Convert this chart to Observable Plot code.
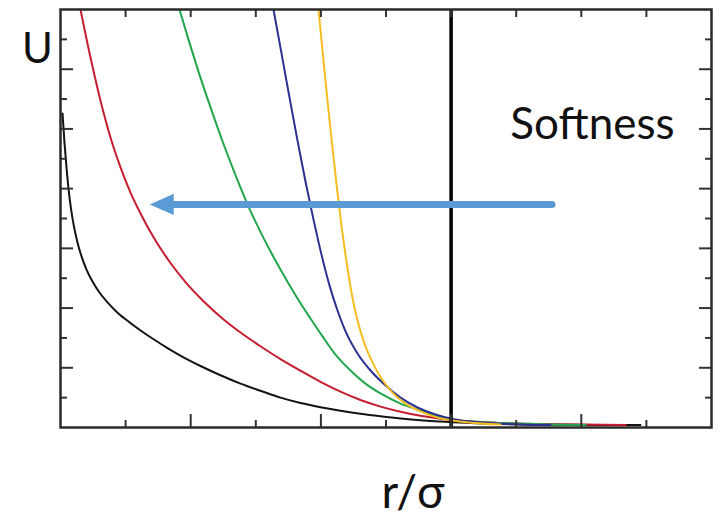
<!DOCTYPE html>
<html>
<head>
<meta charset="utf-8">
<script src="https://cdn.jsdelivr.net/npm/d3@7"></script>
<script src="https://cdn.jsdelivr.net/npm/@observablehq/plot@0.6"></script>
<style>
  html, body { margin: 0; padding: 0; background: #fff; }
  #chart svg { display: block; }
</style>
</head>
<body>
<div id="chart"></div>
<script>
// r/σ positions and U values, one pair of arrays per curve
const curve1R = [0.031, 0.061, 0.092, 0.123, 0.161, 0.207, 0.261, 0.323, 0.399, 0.492, 0.599, 0.722, 0.860, 1.014, 1.198, 1.413, 1.644, 1.889, 2.151, 2.458, 2.765, 3.072, 3.379, 3.687, 3.994, 4.301, 4.608, 4.916, 5.223, 5.530, 5.837, 6.298, 6.759, 7.680, 8.909];
const curve1U = [10.52, 9.54, 8.71, 8.00, 7.33, 6.73, 6.20, 5.73, 5.29, 4.89, 4.52, 4.19, 3.88, 3.60, 3.30, 2.98, 2.66, 2.35, 2.06, 1.75, 1.47, 1.23, 1.00, 0.82, 0.68, 0.56, 0.46, 0.375, 0.30, 0.24, 0.20, 0.147, 0.117, 0.09, 0.084];

const curve2R = [0.307, 0.461, 0.614, 0.768, 0.922, 1.075, 1.229, 1.459, 1.690, 1.920, 2.197, 2.488, 2.765, 3.072, 3.379, 3.687, 3.994, 4.301, 4.608, 4.916, 5.223, 5.530, 5.837, 6.144, 6.759, 7.680, 8.679];
const curve2U = [14.0, 12.39, 10.95, 9.71, 8.71, 7.87, 7.17, 6.26, 5.51, 4.87, 4.23, 3.65, 3.18, 2.72, 2.29, 1.90, 1.53, 1.20, 0.92, 0.70, 0.526, 0.39, 0.29, 0.224, 0.15, 0.107, 0.084];

const curve3R = [1.828, 1.966, 2.120, 2.289, 2.473, 2.673, 2.888, 3.118, 3.379, 3.641, 3.840, 4.025, 4.224, 4.455, 4.685, 4.916, 5.223, 5.530, 5.837, 6.298, 8.065];
const curve3U = [14.0, 12.99, 11.92, 10.82, 9.68, 8.54, 7.40, 6.35, 5.29, 4.32, 3.65, 3.05, 2.44, 1.91, 1.47, 1.14, 0.80, 0.57, 0.33, 0.20, 0.08];

const curve4R = [3.272, 3.395, 3.518, 3.641, 3.763, 3.886, 4.009, 4.132, 4.255, 4.393, 4.562, 4.762, 4.977, 5.223, 5.484, 5.760, 6.022, 6.452, 7.527];
const curve4U = [14.0, 12.53, 11.05, 9.61, 8.24, 6.97, 5.79, 4.76, 3.92, 3.15, 2.48, 1.91, 1.44, 1.00, 0.67, 0.435, 0.285, 0.167, 0.08];

const curve5R = [3.963, 4.032, 4.101, 4.171, 4.240, 4.316, 4.393, 4.470, 4.562, 4.670, 4.793, 4.931, 5.100, 5.300, 5.530, 5.791, 6.068, 6.759];
const curve5U = [14.0, 12.46, 10.95, 9.51, 8.14, 6.76, 5.56, 4.52, 3.58, 2.81, 2.18, 1.64, 1.17, 0.80, 0.54, 0.33, 0.22, 0.10];

const seriesNames  = ["hardest", "hard", "medium", "soft", "softest"];
const seriesColors = ["#141414", "#c61d30", "#22a64b", "#2b3190", "#f5bd22"];

// axis ticks (no labels in the original)
const xMinorTicks = [1, 3, 5, 7, 9];
const xMajorTicks = [2, 4, 6, 8];
const yMinorTicks = [1, 3, 5, 7, 9, 11, 13];
const yMajorTicks = [2, 4, 6, 8, 10, 12];

// reference line and annotation
const cutoffR = [6];
const arrowFromR = 7.55, arrowToR = 1.37, arrowU = 7.47;
const annotationText = ["Softness"];
const annotationR = [6.91], annotationU = [10.15];

const allR = [curve1R, curve2R, curve3R, curve4R, curve5R];
const allU = [curve1U, curve2U, curve3U, curve4U, curve5U];
const curves = seriesNames.flatMap((name, i) =>
  allR[i].map((r, j) => ({series: name, r, u: allU[i][j]})));

// arrow: shaft + filled head, built from the annotation values
const headLen = 0.37, headHalf = 0.355;
const shaft = [{r: arrowFromR, u: arrowU}, {r: arrowToR + headLen * 0.95, u: arrowU}];
const head = [
  {r: arrowToR, u: arrowU},
  {r: arrowToR + headLen, u: arrowU + headHalf},
  {r: arrowToR + headLen, u: arrowU - headHalf}
];

const font = "Lato, 'Open Sans', sans-serif";

const chart = Plot.plot({
  width: 722,
  height: 520,
  marginLeft: 60,
  marginTop: 9,
  marginRight: 11,
  marginBottom: 93,
  x: {domain: [0, 10]},
  y: {domain: [0, 14]},
  color: {type: "ordinal", domain: seriesNames, range: seriesColors},
  style: {fontFamily: font, background: "#fff"},
  marks: [
    Plot.line(curves, {x: "r", y: "u", z: "series", stroke: "series", strokeWidth: 2, curve: "monotone-x", clip: true}),
    Plot.ruleX(cutoffR, {stroke: "#000", strokeWidth: 3.5}),
    Plot.line(shaft, {x: "r", y: "u", stroke: "#5b9bd5", strokeWidth: 7}),
    Plot.line(head, {x: "r", y: "u", fill: "#5b9bd5", stroke: "none"}),
    Plot.text(annotationText, {x: annotationR, y: annotationU, text: d => d, textAnchor: "start", fontSize: 44, fill: "#111"}),
    // ticks pointing inward on all four sides
    Plot.axisX(xMinorTicks, {anchor: "bottom", tickSize: -7, tickFormat: () => "", label: null, stroke: "#333", strokeWidth: 2}),
    Plot.axisX(xMajorTicks, {anchor: "bottom", tickSize: -13, tickFormat: () => "", label: null, stroke: "#333", strokeWidth: 2}),
    Plot.axisX([...xMinorTicks, ...xMajorTicks], {anchor: "top", tickSize: -7, tickFormat: () => "", label: null, stroke: "#333", strokeWidth: 2}),
    Plot.axisY(yMinorTicks, {anchor: "left", tickSize: -7, tickFormat: () => "", label: null, stroke: "#333", strokeWidth: 2}),
    Plot.axisY(yMajorTicks, {anchor: "left", tickSize: -13, tickFormat: () => "", label: null, stroke: "#333", strokeWidth: 2}),
    Plot.axisY(yMinorTicks, {anchor: "right", tickSize: -7, tickFormat: () => "", label: null, stroke: "#333", strokeWidth: 2}),
    Plot.axisY(yMajorTicks, {anchor: "right", tickSize: -13, tickFormat: () => "", label: null, stroke: "#333", strokeWidth: 2}),
    Plot.frame({stroke: "#2a2a2a", strokeWidth: 2.5}),
    // axis titles
    Plot.text(["U"], {frameAnchor: "top-left", dx: -23, dy: 40, text: d => d, fontSize: 42, textAnchor: "middle", lineAnchor: "middle", fill: "#111"}),
    Plot.text(["r/σ"], {frameAnchor: "bottom", dx: 27, dy: 66, text: d => d, fontSize: 46, textAnchor: "middle", lineAnchor: "middle", fill: "#111"})
  ]
});

document.getElementById("chart").appendChild(chart);
</script>
</body>
</html>
